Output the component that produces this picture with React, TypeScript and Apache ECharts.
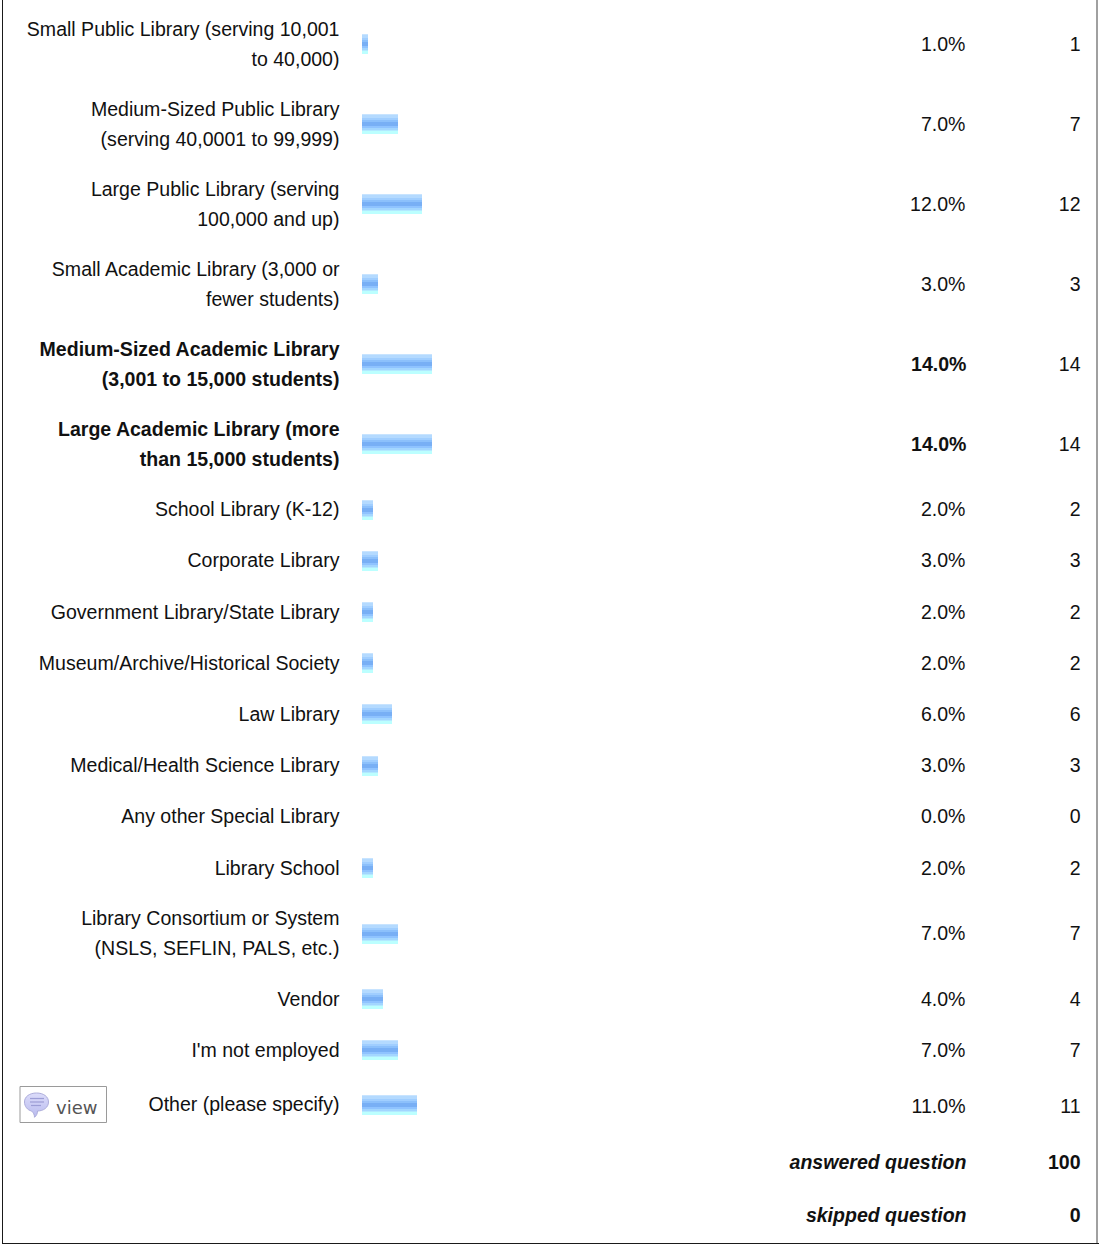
import React, { useEffect, useRef } from "react";
import * as echarts from "echarts";

const categories = [
  "Small Public Library (serving 10,001\nto 40,000)",
  "Medium-Sized Public Library\n(serving 40,0001 to 99,999)",
  "Large Public Library (serving\n100,000 and up)",
  "Small Academic Library (3,000 or\nfewer students)",
  "Medium-Sized Academic Library\n(3,001 to 15,000 students)",
  "Large Academic Library (more\nthan 15,000 students)",
  "School Library (K-12)",
  "Corporate Library",
  "Government Library/State Library",
  "Museum/Archive/Historical Society",
  "Law Library",
  "Medical/Health Science Library",
  "Any other Special Library",
  "Library School",
  "Library Consortium or System\n(NSLS, SEFLIN, PALS, etc.)",
  "Vendor",
  "I'm not employed",
  "Other (please specify)",
];
const percents = [
  "1.0%", "7.0%", "12.0%", "3.0%", "14.0%", "14.0%", "2.0%", "3.0%", "2.0%",
  "2.0%", "6.0%", "3.0%", "0.0%", "2.0%", "7.0%", "4.0%", "7.0%", "11.0%",
];
const counts = [1, 7, 12, 3, 14, 14, 2, 3, 2, 2, 6, 3, 0, 2, 7, 4, 7, 11];
const boldRows = [4, 5];
const summaryLabels = ["answered question", "skipped question"];
const summaryValues = [100, 0];

const FONT = '"Liberation Sans", Arial, sans-serif';
const SIZE = "19.55px";
const TEXT = "#111111";

function buildRowCenters(): number[] {
  const out: number[] = [];
  let y = 4;
  categories.forEach((c, i) => {
    const h = c.includes("\n") ? 80 : i === categories.length - 1 ? 58 : 51.2;
    out.push(y + h / 2);
    y += h;
  });
  return out;
}
const rowCenters = buildRowCenters();

const stripes = new echarts.graphic.LinearGradient(0, 0, 0, 1, [
  { offset: 0, color: "#c8e4ff" },
  { offset: 0.05, color: "#c8e4ff" },
  { offset: 0.05, color: "#b4daff" },
  { offset: 0.2, color: "#b4daff" },
  { offset: 0.2, color: "#a0ceff" },
  { offset: 0.3, color: "#a0ceff" },
  { offset: 0.3, color: "#8cc0fb" },
  { offset: 0.4, color: "#8cc0fb" },
  { offset: 0.4, color: "#78aff5" },
  { offset: 0.6, color: "#78aff5" },
  { offset: 0.6, color: "#8fc3ff" },
  { offset: 0.7, color: "#8fc3ff" },
  { offset: 0.7, color: "#a3d6ff" },
  { offset: 0.8, color: "#a3d6ff" },
  { offset: 0.8, color: "#b2e9ff" },
  { offset: 0.85, color: "#b2e9ff" },
  { offset: 0.85, color: "#bcffff" },
  { offset: 1, color: "#bcffff" },
]);

const bubbleFill = new echarts.graphic.LinearGradient(0, 0, 0, 1, [
  { offset: 0, color: "#dcdcfa" },
  { offset: 1, color: "#b9bbee" },
]);

echarts.graphic.registerShape(
  "bubble",
  echarts.graphic.extendPath(
    "M12 0C19 0 24 4 24 10C24 16 19 20 13 20C13 23 12 25 10 27C10 24 9 22 7 20C3 19 0 15 0 10C0 4 5 0 12 0Z",
    {}
  )
);

function renderRow(params: any, api: any) {
  const i = params.dataIndex;
  const v = api.value(0);
  const y = api.value(1);
  const start = api.coord([0, y]);
  const end = api.coord([v, y]);
  const bold = boldRows.includes(i);
  const isLast = i === categories.length - 1;
  const children: any[] = [];
  if (v > 0) {
    const widen = v < 5 || v === 7 ? 1 : 0;
    children.push({
      type: "rect",
      shape: { x: start[0], y: Math.round(y - 10), width: end[0] - start[0] + widen, height: 20 },
      style: { fill: stripes },
    });
  }
  const weight = bold ? "bold" : "normal";
  const textY = y - 0.4;
  children.push({
    type: "text",
    style: {
      x: 339.5,
      y: isLast ? textY - 0.6 : textY,
      text: categories[i],
      align: "right",
      verticalAlign: "middle",
      font: `${weight} ${SIZE} ${FONT}`,
      lineHeight: 30,
      fill: TEXT,
    },
  });
  children.push({
    type: "text",
    style: {
      x: bold ? 966.5 : 965.5,
      y: isLast ? textY + 1.4 : textY,
      text: percents[i],
      align: "right",
      verticalAlign: "middle",
      font: `${weight} ${SIZE} ${FONT}`,
      fill: TEXT,
    },
  });
  children.push({
    type: "text",
    style: {
      x: 1080.5,
      y: isLast ? textY + 1.4 : textY,
      text: String(counts[i]),
      align: "right",
      verticalAlign: "middle",
      font: `${SIZE} ${FONT}`,
      fill: TEXT,
    },
  });
  return { type: "group", children };
}

export default function App() {
  const ref = useRef<HTMLDivElement>(null);
  useEffect(() => {
    document.body.style.margin = "0";
    const chart = echarts.init(ref.current!, null, { renderer: "svg" });
    const frame = "#1a1a1a";
    const box = "#9a9a9a";
    chart.setOption({
      animation: false,
      backgroundColor: "#ffffff",
      grid: { left: 362, top: 0, width: 500, height: 1247 },
      xAxis: { type: "value", min: 0, max: 100, show: false },
      yAxis: { type: "value", min: 0, max: 1247, inverse: true, show: false },
      series: [
        {
          type: "custom",
          clip: false,
          renderItem: renderRow,
          encode: { x: 0, y: 1 },
          data: counts.map((c, i) => [c, rowCenters[i]]),
        },
      ],
      graphic: [
        { type: "line", shape: { x1: 2.5, y1: 0, x2: 2.5, y2: 1244 }, style: { stroke: frame, lineWidth: 1 } },
        { type: "line", shape: { x1: 1097, y1: 0, x2: 1097, y2: 1244 }, style: { stroke: "#808080", lineWidth: 1.5 } },
        { type: "line", shape: { x1: 2, y1: 1243.5, x2: 1099, y2: 1243.5 }, style: { stroke: frame, lineWidth: 1 } },
        ...summaryLabels.flatMap((s, i) => {
          const y = i === 0 ? 1162 : 1215;
          return [
            {
              type: "text",
              style: {
                x: 966.5, y, text: s, align: "right", verticalAlign: "middle",
                font: `italic bold ${SIZE} ${FONT}`, fill: TEXT,
              },
            },
            {
              type: "text",
              style: {
                x: 1080.5, y, text: String(summaryValues[i]), align: "right", verticalAlign: "middle",
                font: `bold ${SIZE} ${FONT}`, fill: TEXT,
              },
            },
          ];
        }),
        { type: "rect", shape: { x: 20, y: 1086.5, width: 86.5, height: 36 }, style: { fill: "#ffffff", stroke: box, lineWidth: 1 } },
        {
          type: "bubble",
          x: 24.5,
          y: 1093,
          scaleX: 1,
          scaleY: 0.9,
          style: { fill: bubbleFill, stroke: "#a9a9d8", lineWidth: 1 },
        },
        { type: "line", shape: { x1: 30, y1: 1098.5, x2: 44, y2: 1098.5 }, style: { stroke: "#9c9dd6", lineWidth: 1.2 } },
        { type: "line", shape: { x1: 30, y1: 1102, x2: 44, y2: 1102 }, style: { stroke: "#9c9dd6", lineWidth: 1.2 } },
        { type: "line", shape: { x1: 31, y1: 1105.5, x2: 41, y2: 1105.5 }, style: { stroke: "#9c9dd6", lineWidth: 1.2 } },
        {
          type: "text",
          style: {
            x: 56, y: 1107, text: "view", align: "left", verticalAlign: "middle",
            font: `18px "DejaVu Sans", sans-serif`, fill: "#555555",
          },
        },
      ],
    });
    return () => chart.dispose();
  }, []);
  return <div ref={ref} style={{ width: 1102, height: 1247 }} />;
}
